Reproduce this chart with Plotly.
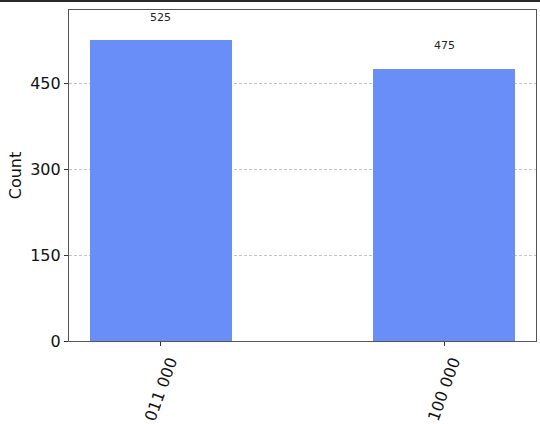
import plotly.graph_objects as go

categories = ["011 000", "100 000"]
counts = [525, 475]
y_ticks = [0, 150, 300, 450]

bar_color = "#6a8ef8"
font_family = "DejaVu Sans"

fig = go.Figure()
fig.add_trace(go.Bar(
    x=list(range(len(categories))),
    y=counts,
    width=0.5,
    marker=dict(color=bar_color, line=dict(width=0)),
    hoverinfo="skip",
))

for i, v in enumerate(counts):
    fig.add_annotation(x=i, y=v, text=str(v), showarrow=False, yshift=23,
                       font=dict(family=font_family, size=11, color="#222"))

# dark strip at the very top of the picture
fig.add_shape(type="rect", xref="paper", yref="paper",
              x0=-0.2, x1=1.05, y0=1 + 8 / 331, y1=1 + 11 / 331,
              fillcolor="#2a2a2a", line=dict(width=0), layer="above")

fig.update_layout(
    width=540, height=424,
    margin=dict(l=69, r=4, t=10, b=83, autoexpand=False),
    paper_bgcolor="white", plot_bgcolor="white",
    showlegend=False,
    font=dict(family=font_family, color="#111"),
    bargap=0,
)
fig.update_xaxes(
    range=[-0.325, 1.325],
    tickmode="array", tickvals=list(range(len(categories))), ticktext=categories,
    tickangle=-70, tickfont=dict(size=16, family=font_family, color="#111"),
    ticks="outside", ticklen=4, tickcolor="#333",
    ticklabelshift=9,
    showline=True, linecolor="#555", linewidth=1.2, mirror=True,
    showgrid=False, zeroline=False, automargin=False,
)
fig.update_yaxes(
    range=[0, max(counts) * 1.1],
    tickmode="array", tickvals=y_ticks,
    tickfont=dict(size=16, family=font_family, color="#111"),
    ticks="outside", ticklen=4, tickcolor="#333",
    showline=True, linecolor="#555", linewidth=1.2, mirror=True,
    showgrid=True, gridcolor="#c4c4c4", griddash="3px,2px", gridwidth=0.8,
    zeroline=False, automargin=False,
    title=dict(text="Count", font=dict(size=16, family=font_family, color="#111"), standoff=4),
)

fig.write_html("out.html", config={"displayModeBar": False},
               post_script="document.body.style.margin='0';document.body.style.padding='0';")
